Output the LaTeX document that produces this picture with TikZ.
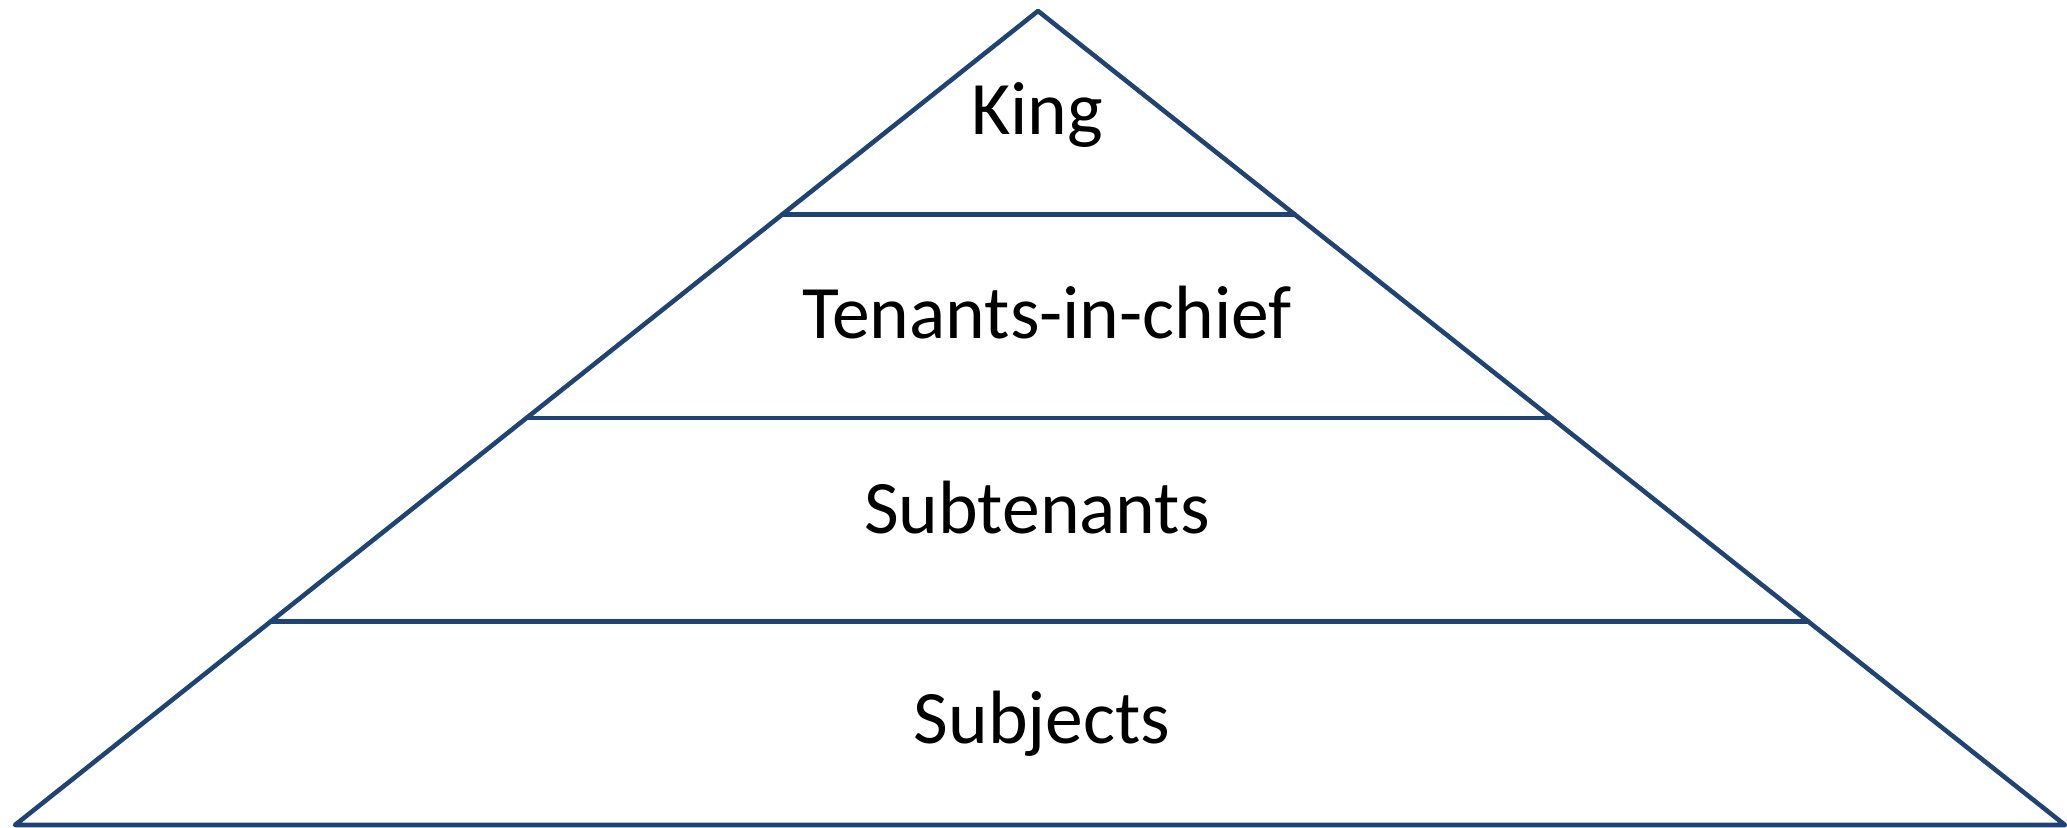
\documentclass[tikz,border=0pt]{standalone}
\usepackage{fontspec}
\setmainfont{Carlito}
\usetikzlibrary{calc}
\definecolor{tierblue}{RGB}{31,68,115}
\tikzset{every path/.style={tierblue,line width=2.6pt,line join=round,line cap=round}, tier/.style={font=\fontsize{43}{51}\selectfont, text=black, anchor=base, inner sep=0pt}}

\begin{document}
\begin{tikzpicture}[x=0.02cm,y=-0.02cm]
  \useasboundingbox (0,0) rectangle (2067,828);
  \coordinate (apex) at (1038,11);
  \coordinate (bl) at (15,825);
  \coordinate (br) at (2065,825);
  % pyramid outline
  \draw (bl) -- (apex) -- (br) -- cycle;
  % tiers
  \foreach \t in {0.25,0.5,0.75}
   \draw ($(apex)!\t!(bl)$) -- ($(apex)!\t!(br)$);
  \node[tier] (king) at (1037,134) {King};
  \node[tier] (tenants) at (1047,338) {Tenants-in-chief};
  \node[tier] (subtenants) at (1037,533) {Subtenants};
  \node[tier] (subjects) at (1042,743) {Subjects};
 \end{tikzpicture}
\end{document}
